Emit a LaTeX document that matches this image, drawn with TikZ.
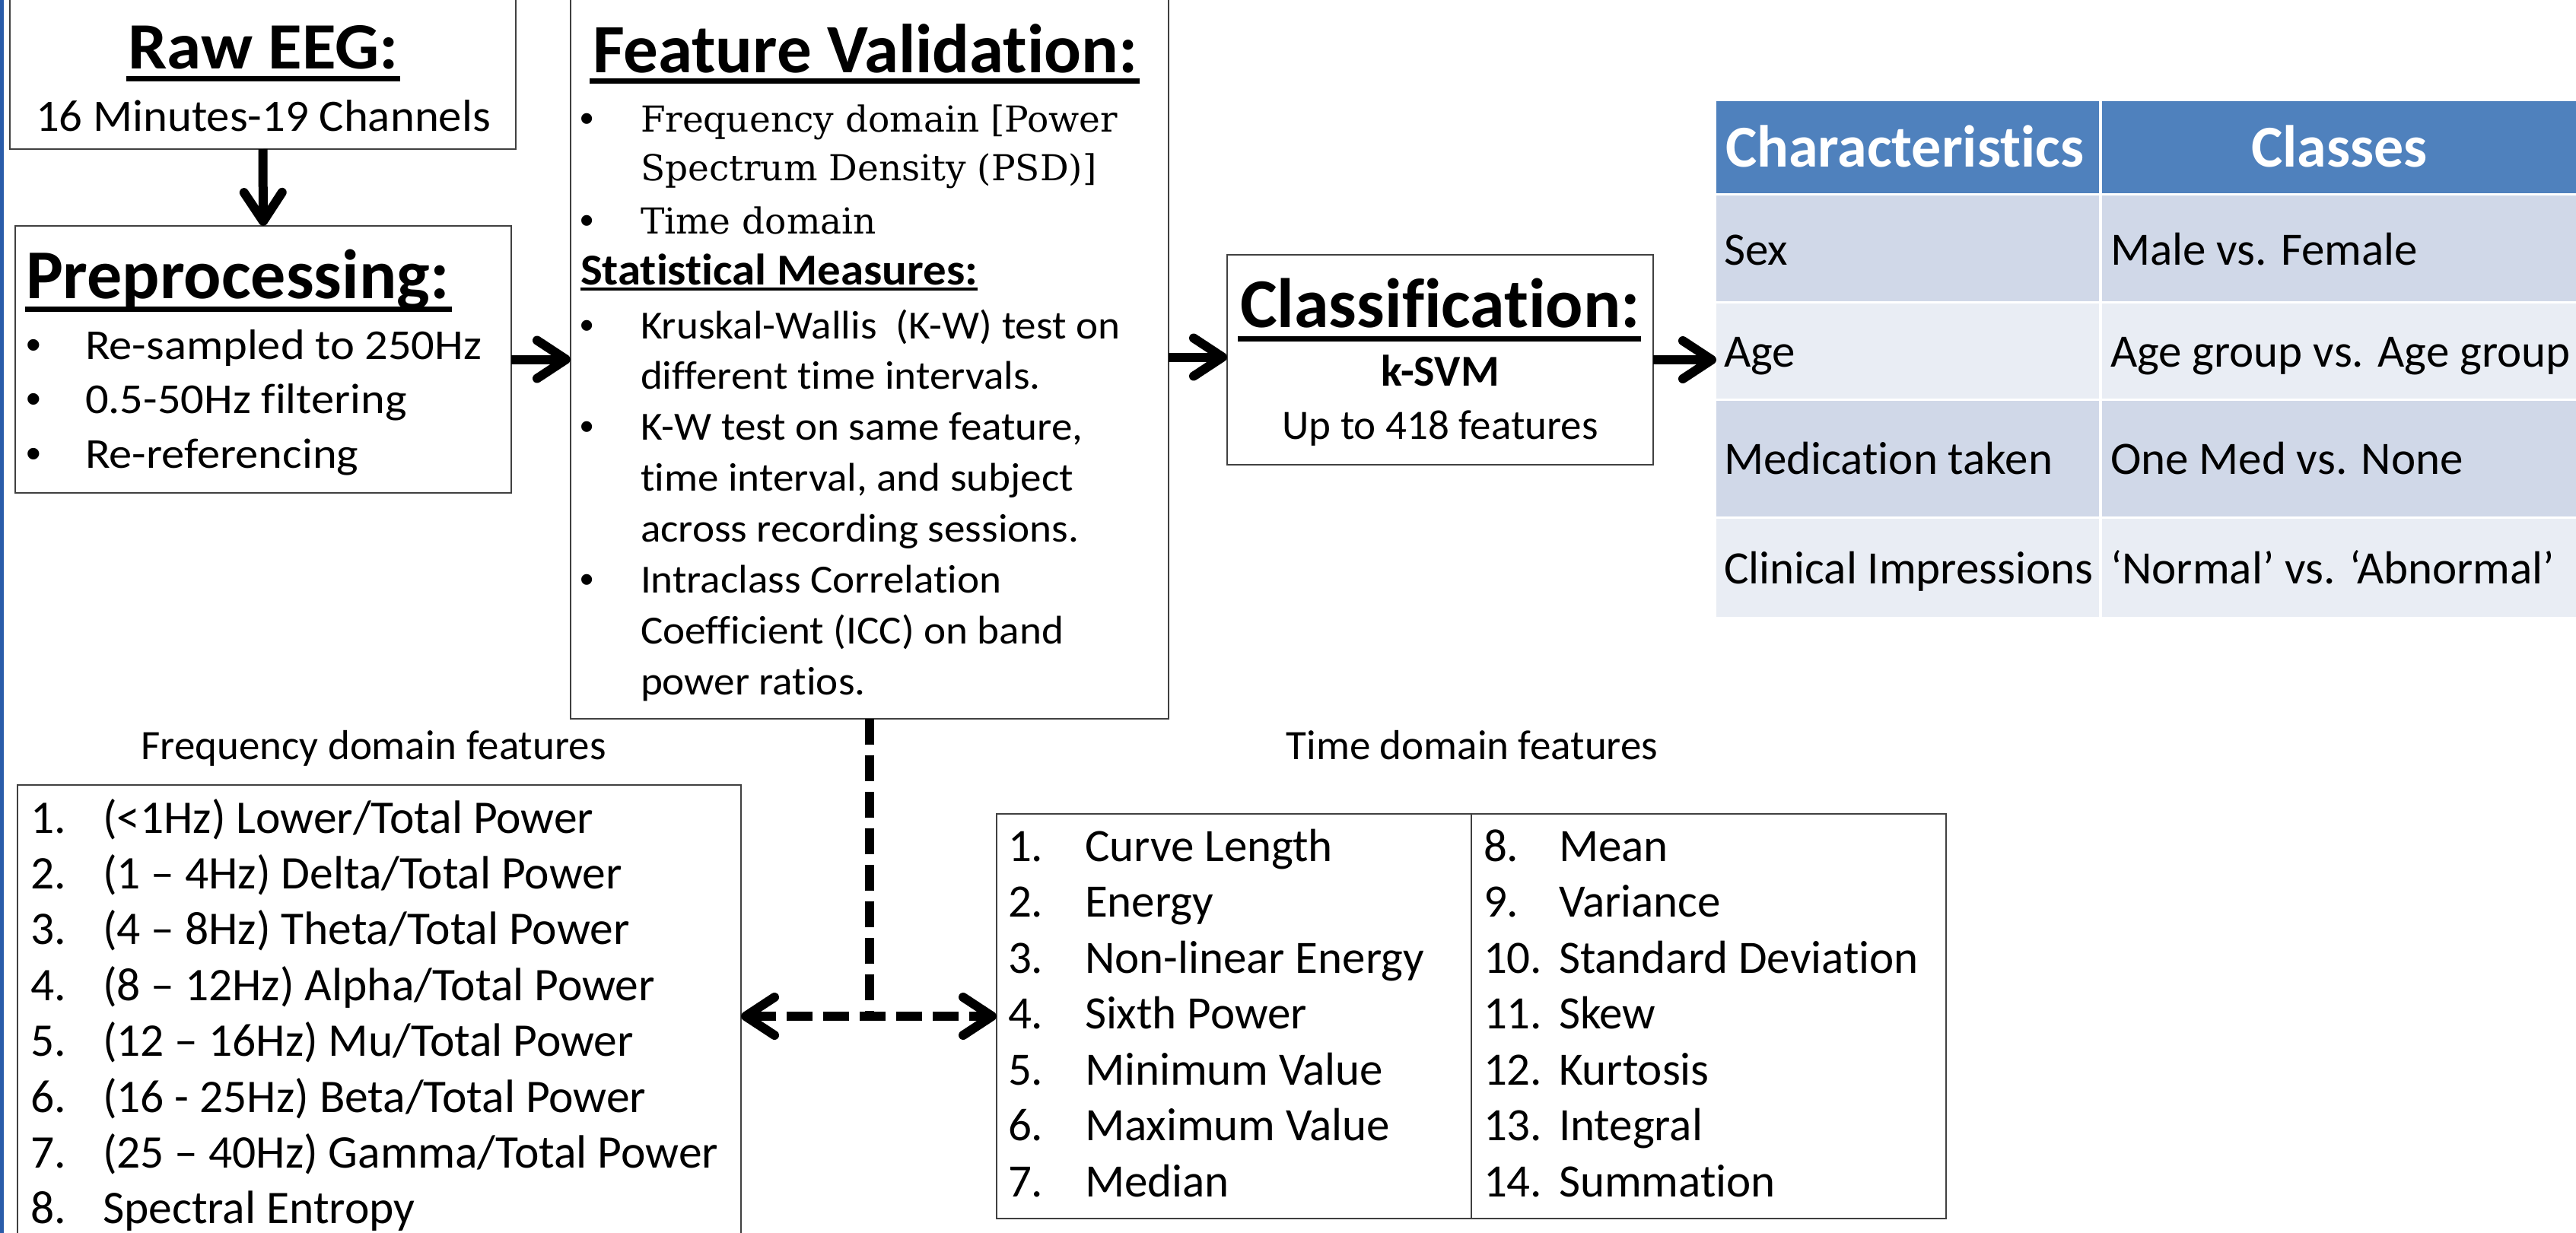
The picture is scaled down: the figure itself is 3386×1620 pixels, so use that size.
\documentclass[tikz,border=0pt]{standalone}
\usepackage{fontspec}
\setmainfont{Carlito}
\usetikzlibrary{arrows.meta}
\newcommand\Fs[2]{\fontspec[FakeStretch=#1,Ligatures=NoCommon]{Carlito}\fontsize{#2pt}{#2pt}\selectfont}
\newcommand\Fser[2]{\fontspec[FakeStretch=#1]{DejaVu Serif}\fontsize{#2pt}{#2pt}\selectfont}
\newcommand\Fbul[1]{\fontspec{Liberation Sans}\fontsize{#1pt}{#1pt}\selectfont}
\definecolor{hdr}{HTML}{4F81BD}
\definecolor{rowa}{HTML}{D0D8E8}
\definecolor{rowb}{HTML}{E9EDF4}
\definecolor{edgeblue}{HTML}{2A5CAA}
\definecolor{boxc}{HTML}{404040}
\tikzset{
  box/.style={draw=boxc, line width=2.5pt, inner sep=0pt, outer sep=0pt, rectangle, anchor=north west},
  cell/.style={inner sep=0pt, outer sep=0pt, rectangle, anchor=north west},
  txt/.style={inner sep=0pt, outer sep=0pt, anchor=base west},
  ctxt/.style={inner sep=0pt, outer sep=0pt, anchor=base},
  tipb/.tip={Straight Barb[length=38pt,width=50pt,round]},
  arr/.style={line width=12pt, -tipb},
  dsh/.style={line width=12pt, dash pattern=on 34pt off 14pt},
  uline/.style={line width=7pt}
}
\begin{document}
\begin{tikzpicture}[x=1pt,y=-1pt]
\useasboundingbox (0,0) rectangle (3386,1620);
\fill[white] (0,0) rectangle (3386,1620);
\draw[edgeblue, line width=5pt] (2,-5) -- (2,1625);

% ---------- boxes ----------
\node[box, minimum width=665pt, minimum height=202pt] (raw) at (13,-6) {};
\node[box, minimum width=652pt, minimum height=351pt] (prep) at (20,297) {};
\node[box, minimum width=786pt, minimum height=951pt] (fv) at (750,-6) {};
\node[box, minimum width=560pt, minimum height=276pt] (cls) at (1613,335) {};
\node[box, minimum width=951pt, minimum height=640pt] (freq) at (23,1032) {};
\node[box, minimum width=1248pt, minimum height=532pt] (time) at (1310,1070) {};
\draw[draw=boxc, line width=2.5pt] ([xshift=624pt]time.north west) -- ([xshift=624pt]time.south west);

% ---------- Raw EEG ----------
\node[ctxt] (rawT) at (346,90) {\Fs{1.05}{87}\bfseries Raw EEG:};
\draw[uline] ([yshift=-13pt,xshift=-2pt]rawT.base west) -- ([yshift=-13pt,xshift=2pt]rawT.base east);
\node[ctxt] (rawS) at (346,172) {\Fs{1.03}{59}16 Minutes-19 Channels};

% ---------- Preprocessing ----------
\node[txt] (prepT) at (34,392) {\Fs{1}{92}\bfseries Preprocessing:};
\draw[uline] ([yshift=-14pt,xshift=-1pt]prepT.base west) -- ([yshift=-14pt,xshift=3pt]prepT.base east);
\foreach \t [count=\i from 0] in {{Re-sampled to 250Hz},{0.5-50Hz filtering},{Re-referencing}}{
  \node[ctxt] (prepB\i) at (44,{472+71.5*\i}) {\Fbul{56}•};
  \node[txt] (prepL\i) at (112,{472+71.5*\i}) {\Fs{1.08}{56}\t};
}

% ---------- Feature Validation ----------
\node[txt] (fvT) at (779,95) {\Fs{1}{91}\bfseries Feature Validation:};
\draw[uline] ([yshift=-11.5pt,xshift=-4pt]fvT.base west) -- ([yshift=-11.5pt,xshift=2pt]fvT.base east);
\node[ctxt] (fvB0) at (772,173) {\Fbul{52}•};
\node[txt] (fvS0) at (842,173) {\Fser{1}{47}Frequency domain [Power};
\node[txt] (fvS1) at (842,237) {\Fser{1}{47}Spectrum Density (PSD)]};
\node[ctxt] (fvB1) at (772,307) {\Fbul{52}•};
\node[txt] (fvS2) at (842,307) {\Fser{1}{47}Time domain};
\node[txt] (statT) at (763,374) {\Fs{1.05}{58}\bfseries Statistical Measures:};
\draw[line width=4pt] ([yshift=-6pt]statT.base west) -- ([yshift=-6pt]statT.base east);
\foreach \t [count=\i from 0] in {{Kruskal-Wallis \ (K-W) test on},{different time intervals.},{K-W test on same feature,},{time interval, and subject},{across recording sessions.},{Intraclass Correlation},{Coefficient (ICC) on band},{power ratios.}}{
  \node[txt] (fvL\i) at (842,{445+66.9*\i}) {\Fs{1.05}{52.5}\t};
}
\foreach \i in {0,2,5}{
  \node[ctxt] (fvD\i) at (772,{445+66.9*\i}) {\Fbul{52}•};
}

% ---------- Classification ----------
\node[ctxt] (clsT) at (1893,430) {\Fs{1}{92}\bfseries Classification:};
\draw[uline] ([yshift=-15pt,xshift=-3pt]clsT.base west) -- ([yshift=-15pt,xshift=1pt]clsT.base east);
\node[ctxt] (clsK) at (1893,507) {\Fs{1}{58}\bfseries k-SVM};
\node[ctxt] (clsU) at (1893,577) {\Fs{1}{55}Up to 418 features};

% ---------- table ----------
\node[cell, fill=hdr, minimum width=503pt, minimum height=121pt] (h1) at (2256,133) {};
\node[cell, fill=hdr, minimum width=630pt, minimum height=121pt] (h2) at (2763,133) {};
\foreach \top/\ht/\col [count=\r] in {257/139/rowa, 399/125/rowb, 527/152/rowa, 682/129/rowb}{
  \node[cell, fill=\col, minimum width=503pt, minimum height=\ht pt] (c\r a) at (2256,\top) {};
  \node[cell, fill=\col, minimum width=630pt, minimum height=\ht pt] (c\r b) at (2763,\top) {};
}
\node[txt, text=white] (hT1) at (2268,219) {\Fs{1}{78}\bfseries Characteristics};
\node[ctxt, text=white] (hT2) at (3075,219) {\Fs{1}{78}\bfseries Classes};
\foreach \a/\b/\y [count=\r] in {Sex/{Male vs. Female}/348, Age/{Age group vs. Age group}/482, {Medication taken}/{One Med vs. None}/623, {Clinical Impressions}/{‘Normal’ vs. ‘Abnormal’}/767}{
  \node[txt] (tA\r) at (2266,\y) {\Fs{1}{61}\a};
  \node[txt] (tB\r) at (2774,\y) {\Fs{1}{61}\b};
}

% ---------- feature lists ----------
\node[ctxt] (freqL) at (491,998) {\Fs{1}{55}Frequency domain features};
\node[ctxt] (timeL) at (1935,998) {\Fs{1}{55}Time domain features};
\foreach \t [count=\i] in {{(<1Hz) Lower/Total Power},{(1 – 4Hz) Delta/Total Power},{(4 – 8Hz) Theta/Total Power},{(8 – 12Hz) Alpha/Total Power},{(12 – 16Hz) Mu/Total Power},{(16 - 25Hz) Beta/Total Power},{(25 – 40Hz) Gamma/Total Power},{Spectral Entropy}}{
  \node[txt] (fN\i) at (40,{1095+73.4*(\i-1)}) {\Fs{1}{61.5}\i.};
  \node[txt] (fT\i) at (135,{1095+73.4*(\i-1)}) {\Fs{1}{61.5}\t};
}
\foreach \t [count=\i] in {{Curve Length},{Energy},{Non-linear Energy},{Sixth Power},{Minimum Value},{Maximum Value},{Median}}{
  \node[txt] (tN\i) at (1325,{1132+73.5*(\i-1)}) {\Fs{1}{61}\i.};
  \node[txt] (tT\i) at (1426,{1132+73.5*(\i-1)}) {\Fs{1}{61}\t};
}
\foreach \t [count=\i from 8] in {{Mean},{Variance},{Standard Deviation},{Skew},{Kurtosis},{Integral},{Summation}}{
  \node[txt] (uN\i) at (1950,{1132+73.5*(\i-8)}) {\Fs{1}{61}\i.};
  \node[txt] (uT\i) at (2049,{1132+73.5*(\i-8)}) {\Fs{1}{61}\t};
}

% ---------- connectors ----------
\draw[arr] (raw.south) -- (prep.north);
\draw[arr] (prep.east) -- (prep.east -| fv.west);
\draw[arr] (fv.east) -- (fv.east -| cls.west);
\draw[arr] (cls.east) -- (cls.east -| h1.west);
\coordinate (jn) at (1143,1336);
\draw[dsh] (fv.south) -- (jn);
\draw[dsh, tipb-tipb] (jn -| freq.east) -- (jn -| time.west);
\end{tikzpicture}
\end{document}
